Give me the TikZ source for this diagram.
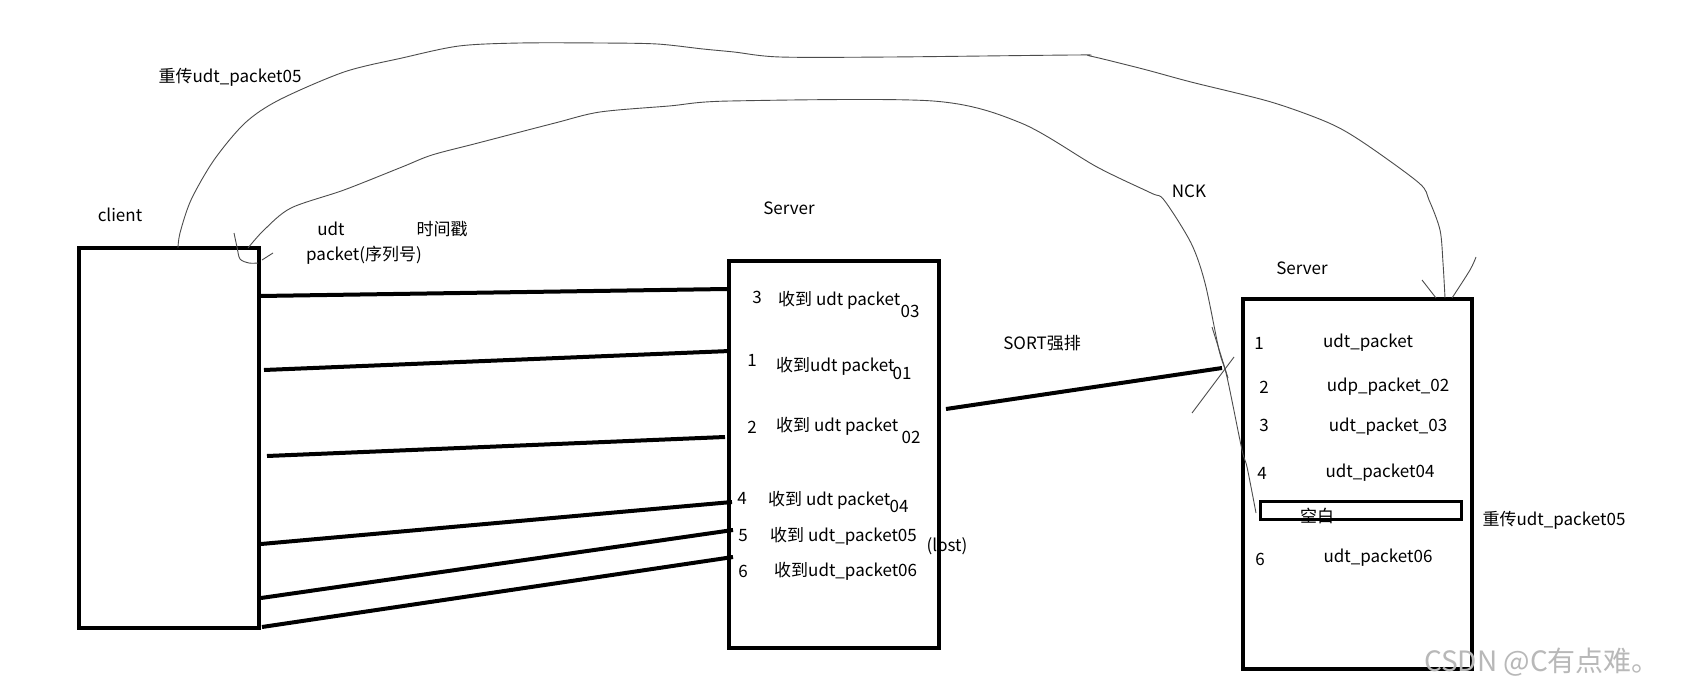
\documentclass[tikz,border=0pt]{standalone}
\usepackage{fontspec}
\setmainfont{Noto Sans CJK SC}
\begin{document}
\begin{tikzpicture}[x=1pt,y=-1pt,
  box/.style={draw, line width=4pt, inner sep=0pt, outer sep=0pt},
  smallbox/.style={draw, line width=3pt, inner sep=0pt, outer sep=0pt},
  wire/.style={line width=4pt},
  pen/.style={line width=0.9pt, black!70},
  lbl/.style={inner sep=0pt, font=\fontsize{17}{20}\selectfont},
  wm/.style={inner sep=0pt, font=\fontsize{28}{32}\selectfont, text=black!28}]
\useasboundingbox[fill=white] (0,0) rectangle (1691,687);

% boxes
\node[box, minimum width=180, minimum height=380] (client) at (169,438) {};
\node[box, minimum width=210, minimum height=387] (srv1) at (834,454.5) {};
\node[box, minimum width=229, minimum height=370] (srv2) at (1357.5,484) {};
\node[smallbox, minimum width=201, minimum height=18] (gap) at (1360.5,510) {};

% client -> server1 wires
\coordinate (a1) at (260,296); \coordinate (b1) at (727,289);
\coordinate (a2) at (264,370); \coordinate (b2) at (730,351);
\coordinate (a3) at (267,456); \coordinate (b3) at (725,437);
\coordinate (a4) at (261,544); \coordinate (b4) at (732,502);
\coordinate (a5) at (261,598); \coordinate (b5) at (733,530);
\coordinate (a6) at (262,627); \coordinate (b6) at (733,557);
\foreach \i in {1,...,6} \draw[wire] (a\i) -- (b\i);

% SORT wire
\coordinate (s1) at (946,409); \coordinate (s2) at (1222,368);
\draw[wire] (s1) -- (s2);

% outer arc (retransmit) client -> server2
\coordinate (co) at (178,248);
\coordinate (so) at (1445,298);
\draw[pen] plot[smooth, tension=0.5] coordinates {(co) (180,233) (191,200) (214,160) (245,123) (279,100) (344,72) (402,58) (459,46) (520,43) (600,43) (657,44) (703,49) (734,52) (780,57) (891,57) (1075,55) (1090,56) (1143,69) (1191,82) (1271,102) (1329,123) (1364,143) (1419,183) (1429,200) (1440,230) (1443,263) (so)};
\coordinate (h1) at (1422,280); \coordinate (h2) at (1436,298);
\coordinate (h3) at (1476,257); \coordinate (h4) at (1452,298);
\draw[pen] (h1) -- (h2);
\draw[pen] plot[smooth] coordinates {(h3) (1470,270) (h4)};

% inner arc (NCK)
\coordinate (ci) at (248,248);
\coordinate (ni) at (1256,513);
\draw[pen] plot[smooth, tension=0.5] coordinates {(ci) (264,230) (291,208) (344,190) (402,167) (432,155) (478,143) (555,123) (600,112) (669,106) (730,101) (933,101) (1021,123) (1097,167) (1151,193) (1164,200) (1191,243) (1205,283) (1219,350) (1227,377) (1242,450) (1247,467) (ni)};
\coordinate (k1) at (1212,327); \coordinate (k2) at (1228,378);
\coordinate (k3) at (1192,413); \coordinate (k4) at (1234,357);
\draw[pen] (k1) -- (k2);
\draw[pen] (k3) -- (k4);

% hook at client
\coordinate (q1) at (234,233); \coordinate (q2) at (258,263);
\coordinate (q3) at (262,260); \coordinate (q4) at (273,253);
\draw[pen] plot[smooth] coordinates {(q1) (237,247) (240,259) (249,263) (q2)};
\draw[pen] (q3) -- (q4);

% top labels
\node[lbl] (tre1) at (230,77) {重传udt\_packet05};
\node[lbl] (tcl) at (120,215) {client};
\node[lbl] (tudt) at (331,229) {udt};
\node[lbl] (tts) at (442,229) {时间戳};
\node[lbl] (tpk) at (364,255) {packet(序列号)};
\node[lbl] (ts1) at (789,208) {Server};
\node[lbl] (tnck) at (1189,191) {NCK};
\node[lbl] (ts2) at (1302,268) {Server};
\node[lbl] (tsort) at (1042,343) {SORT强排};

% server1 contents
\node[lbl] (n3) at (757,297) {3};
\node[lbl, anchor=west] (r3) at (778,300) {收到 udt packet};
\node[lbl] (x3) at (910,311) {03};
\node[lbl] (n1) at (752,360) {1};
\node[lbl, anchor=west] (r1) at (776,366) {收到udt packet};
\node[lbl] (x1) at (902,373) {01};
\node[lbl] (n2) at (752,427) {2};
\node[lbl, anchor=west] (r2) at (776,426) {收到 udt packet};
\node[lbl] (x2) at (911,437) {02};
\node[lbl] (n4) at (742,498) {4};
\node[lbl, anchor=west] (r4) at (768,500) {收到 udt packet};
\node[lbl] (x4) at (899,506) {04};
\node[lbl] (n5) at (743,536) {5};
\node[lbl, anchor=west] (r5) at (770,536) {收到 udt\_packet05};
\node[lbl] (lost) at (947,546) {(lost)};
\node[lbl] (n6) at (743,571) {6};
\node[lbl, anchor=west] (r6) at (774,571) {收到udt\_packet06};

% server2 contents
\node[lbl] (m1) at (1259,343) {1};
\node[lbl] (p1) at (1368,343) {udt\_packet};
\node[lbl] (m2) at (1264,387) {2};
\node[lbl] (p2) at (1388,387) {udp\_packet\_02};
\node[lbl] (m3) at (1264,425) {3};
\node[lbl] (p3) at (1388,427) {udt\_packet\_03};
\node[lbl] (m4) at (1262,473) {4};
\node[lbl] (p4) at (1380,473) {udt\_packet04};
\node[lbl] (blank) at (1317,516) {空白};
\node[lbl] (m6) at (1260,559) {6};
\node[lbl] (p6) at (1378,558) {udt\_packet06};
\node[lbl] (tre2) at (1554,520) {重传udt\_packet05};

% watermark
\node[wm] (mark) at (1542,662) {CSDN @C有点难。};
\end{tikzpicture}
\end{document}
